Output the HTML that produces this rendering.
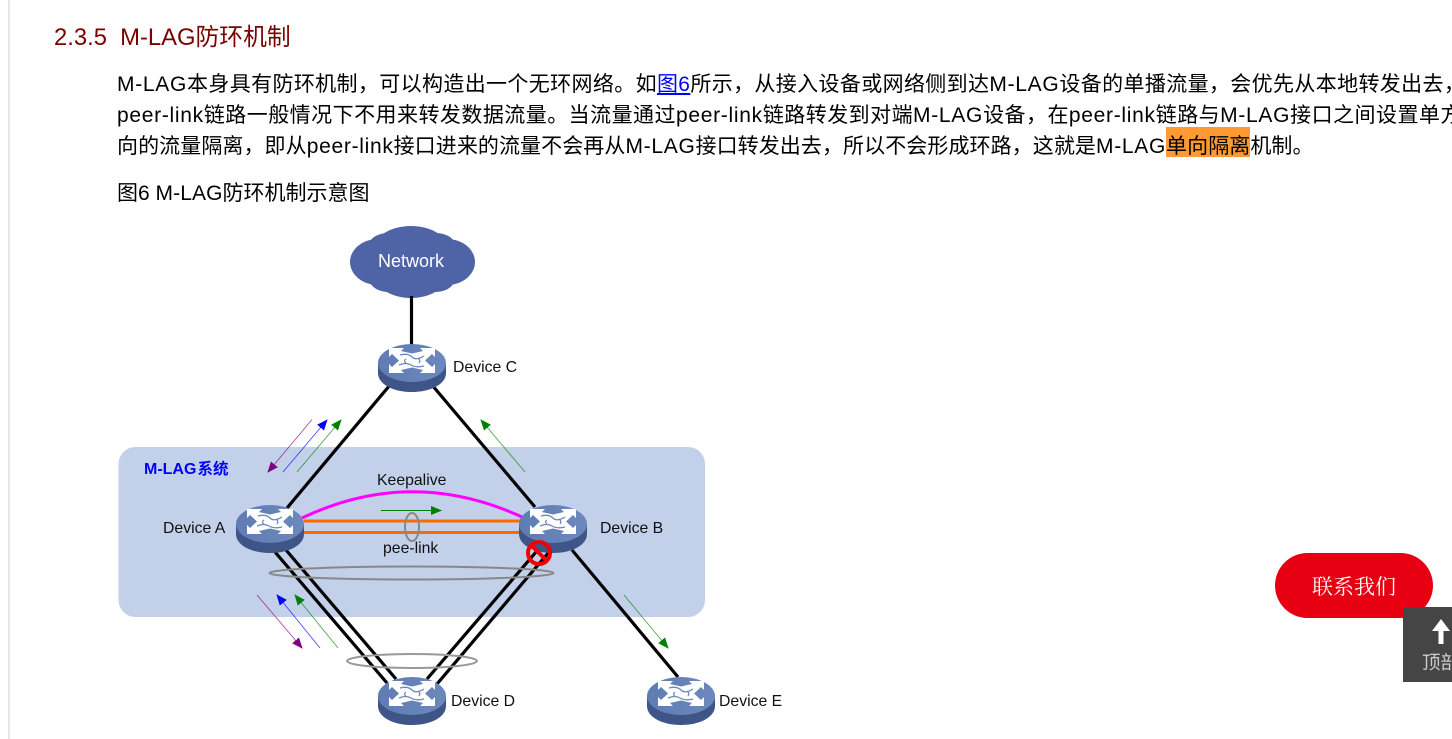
<!DOCTYPE html>
<html lang="zh"><head><meta charset="utf-8"><title>M-LAG</title>
<style>
html,body{margin:0;padding:0;background:#fff;width:1452px;height:739px;overflow:hidden}
body{position:relative;font-family:"Liberation Sans","Noto Sans CJK SC",sans-serif;color:#000}
.l{position:absolute;left:117px;font-size:21px;line-height:31px;height:31px;white-space:nowrap}
.l i{font-style:normal;letter-spacing:.7px}
a{color:#00f;text-decoration:underline}
svg{position:absolute;left:0;top:0}
svg text{font-family:"Liberation Sans","Noto Sans CJK SC",sans-serif}
</style></head><body>
<div style="position:absolute;left:8px;top:0;width:1.5px;height:739px;background:#e8e8e8"></div>
<div style="position:absolute;left:1166px;top:127px;width:84px;height:30px;background:#ff9933"></div>
<div style="position:absolute;left:54px;top:21px;font-size:23.800px;line-height:34px;color:#7b0000;white-space:pre">2.3.5  M-LAG防环机制</div>
<div class="l" style="top:69px;letter-spacing:.36px"><i>M-LAG</i>本身具有防环机制，可以构造出一个无环网络。如<a href="#f">图6</a>所示，从接入设备或网络侧到达<i>M-LAG</i>设备的单播流量，会优先从本地转发出去，</div>
<div class="l" style="top:100px;letter-spacing:.46px"><i>peer-link</i>链路一般情况下不用来转发数据流量。当流量通过<i>peer-link</i>链路转发到对端<i>M-LAG</i>设备，在<i>peer-link</i>链路与<i>M-LAG</i>接口之间设置单方</div>
<div class="l" style="top:131px;letter-spacing:.08px">向的流量隔离，即从<i>peer-link</i>接口进来的流量不会再从<i>M-LAG</i>接口转发出去，所以不会形成环路，这就是<i>M-LAG</i>单向隔离机制。</div>
<div class="l" style="top:178px">图6 <i style="letter-spacing:.1px">M-LAG</i>防环机制示意图</div>

<svg width="1452" height="739" viewBox="0 0 1452 739">
<defs>
<linearGradient id="g" x1="0" y1="0" x2="1" y2="0"><stop offset="0" stop-color="#5f7cb3"/><stop offset="1" stop-color="#6c88bd"/></linearGradient>
<marker id="mg" markerWidth="12" markerHeight="10" refX="10" refY="4.500" orient="auto" markerUnits="userSpaceOnUse"><path d="M0 0L11 4.500L0 9z" fill="#008000"/></marker>
<marker id="mb" markerWidth="12" markerHeight="10" refX="10" refY="4.500" orient="auto" markerUnits="userSpaceOnUse"><path d="M0 0L11 4.500L0 9z" fill="#0000ff"/></marker>
<marker id="mp" markerWidth="12" markerHeight="10" refX="10" refY="4.500" orient="auto" markerUnits="userSpaceOnUse"><path d="M0 0L11 4.500L0 9z" fill="#800080"/></marker>
<g id="sw">
<path d="M-34 19V29C-34 40-19 48 0 48S34 40 34 29V19z" fill="#3f5588"/>
<ellipse cx="0" cy="19" rx="34" ry="19" fill="url(#g)"/>
<path d="M-23 4H-8L-11 7L0 9.500L11 7L8 4H23V13L20 10L13 16.500L20 23L23 20V29H8L11 26L0 23.500L-11 26L-8 29H-23V20L-20 23L-13 16.500L-20 10L-23 13z" fill="#fff"/>
<path d="M-12 11Q-4 9 0 13T12 12M-13 21Q-6 18-1 21T12 22M-6 15Q-9 17-6 19M6 14Q9 16 7 19" fill="none" stroke="#6c88bd" stroke-width="1.300"/>
</g>
</defs>

<rect x="118.500" y="447" width="586.500" height="170" rx="17" fill="#c2d0e9"/>

<!-- cloud -->
<g fill="#4f64a6">
<ellipse cx="412" cy="262" rx="52" ry="27"/>
<ellipse cx="378" cy="262" rx="28" ry="23"/>
<ellipse cx="447" cy="262" rx="28" ry="23"/>
<ellipse cx="411" cy="249" rx="37" ry="23"/>
<ellipse cx="411" cy="275" rx="36" ry="23"/>
<ellipse cx="388" cy="276" rx="20" ry="16"/>
<ellipse cx="436" cy="276" rx="20" ry="16"/>
<ellipse cx="388" cy="247" rx="20" ry="14"/>
<ellipse cx="436" cy="247" rx="20" ry="14"/>
</g>
<text x="378" y="267" font-size="18" fill="#fff">Network</text>

<g stroke="#000" stroke-width="3.200" fill="none">
<path d="M411.500 296V346"/>
<path d="M390 385L287 508"/>
<path d="M432 385L535 507"/>
<path d="M275 552L387 683"/>
<path d="M286 550L396 679"/>
<path d="M536 552L427 679"/>
<path d="M549 552L437 684"/>
<path d="M572 550L678 677"/>
</g>

<path d="M302 518Q411 466 522 517" fill="none" stroke="#ff00ff" stroke-width="3"/>
<g stroke="#ff6a00" stroke-width="3"><path d="M304 521H520"/><path d="M304 532.500H520"/></g>
<path d="M381 510.500H441" stroke="#008000" stroke-width="1" marker-end="url(#mg)"/>
<ellipse cx="412" cy="527" rx="7" ry="14" fill="none" stroke="#888" stroke-width="2"/>

<use href="#sw" x="412" y="344"/>
<use href="#sw" x="270" y="505"/>
<use href="#sw" x="553" y="505"/>
<use href="#sw" x="412" y="677"/>
<use href="#sw" x="681" y="677"/>

<ellipse cx="411.500" cy="573" rx="142" ry="6.500" fill="none" stroke="#888" stroke-width="2"/>
<ellipse cx="412" cy="661" rx="65" ry="7" fill="none" stroke="#999" stroke-width="2"/>

<circle cx="539" cy="553" r="11" fill="none" stroke="#f00000" stroke-width="4"/>
<path d="M532 546L546 560" stroke="#f00000" stroke-width="4"/>

<g fill="none" stroke-width=".8" stroke-opacity=".75">
<path d="M312 419.500L268 472" stroke="#800080" marker-end="url(#mp)"/>
<path d="M283 472L327 420" stroke="#0000ff" marker-end="url(#mb)"/>
<path d="M297 472L341 420" stroke="#008000" marker-end="url(#mg)"/>
<path d="M525 472L481 420" stroke="#008000" marker-end="url(#mg)"/>
<path d="M257 595L302 648" stroke="#800080" marker-end="url(#mp)"/>
<path d="M320 648L277 595" stroke="#0000ff" marker-end="url(#mb)"/>
<path d="M338 648L295 595" stroke="#008000" marker-end="url(#mg)"/>
<path d="M624 595L668 648" stroke="#008000" marker-end="url(#mg)"/>
</g>

<g font-size="15.800" fill="#111">
<text x="453" y="372">Device C</text>
<text x="163" y="533">Device A</text>
<text x="600" y="533">Device B</text>
<text x="451" y="706">Device D</text>
<text x="719" y="706">Device E</text>
<text x="377" y="485">Keepalive</text>
<text x="383" y="553">pee-link</text>
</g>
<text x="144" y="474" font-size="16" font-weight="bold" fill="#0000ff">M-LAG<tspan font-size="15.500" dx="1">系统</tspan></text>
</svg>

<div style="position:absolute;left:1275px;top:553px;width:158px;height:65px;border-radius:33px;background:#e60012;color:#fff;font-family:'Liberation Serif','Noto Serif CJK SC',serif;font-size:21px;line-height:69px;text-align:center">联系我们</div>
<div style="position:absolute;left:1403px;top:607px;width:49px;height:75px;background:#454545;overflow:hidden">
<svg width="49" height="75" style="left:0;top:0"><path d="M38 12L47 24H40.500V37H35.500V24H29z" fill="#fff"/></svg>
<div style="position:absolute;left:19px;top:43px;width:60px;font-size:18.500px;line-height:26px;color:#ccc;white-space:nowrap">顶部</div>
</div>
</body></html>
